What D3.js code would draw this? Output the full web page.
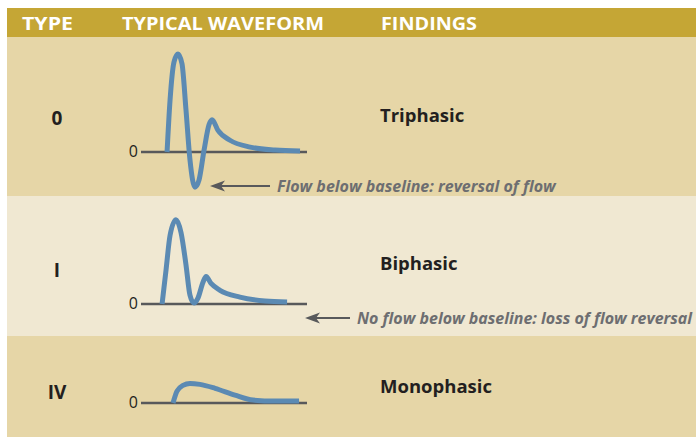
<!DOCTYPE html>
<html>
<head>
<meta charset="utf-8">
<script src="https://cdn.jsdelivr.net/npm/d3@7"></script>
<style>
  body { margin: 0; background: #fff; }
  svg text { font-family: "Open Sans", "Noto Sans", sans-serif; }
</style>
</head>
<body>
<div id="chart"></div>
<script>
// table content
let headers = ["TYPE", "TYPICAL WAVEFORM", "FINDINGS"];
let types = ["0", "I", "IV"];
let findings = ["Triphasic", "Biphasic", "Monophasic"];
let notes = ["Flow below baseline: reversal of flow", "No flow below baseline: loss of flow reversal", null];

// waveforms: [time, velocity]
let triphasic = [[15.7, 0], [17.5, 53], [19.9, 92], [22.3, 100], [24.7, 90], [27.1, 43], [29.5, -8],
  [32.5, -36], [34.9, -29], [38, 2], [41, 28], [42.8, 33], [46.4, 22], [53.6, 12], [65.7, 5], [80.7, 2], [95.8, 1]];
let biphasic = [[12.7, 0], [15.1, 35], [17.5, 70], [21.1, 86], [24.1, 73], [27.1, 40], [29.5, 9],
  [31.9, 1], [34.3, 6], [37.3, 22], [39.2, 28], [42.2, 21], [47.6, 14], [59.6, 7], [74.7, 3], [88, 2]];
let monophasic = [[19.3, 0], [21.7, 12], [25.3, 18], [29.5, 20], [35.5, 19], [44.6, 15], [56.6, 8],
  [67.5, 3], [80.7, 2], [95.2, 2]];
let waves = [triphasic, biphasic, monophasic];

let areaWidth = 696;
let areaHeight = 437;

let svg = d3.select("#chart").append("svg")
  .attr("width", areaWidth)
  .attr("height", areaHeight);

let left = 7;
let headTop = 8, headBottom = 37;
let rowTops = [37, 196, 336, 437];
let rowColors = ["#e6d6a7", "#f0e8d2", "#e6d6a7"];
let baselines = [152, 304, 403];
let labelY = [118, 270, 392];
let findY = [116, 264, 387];

// header band
svg.append("rect")
  .attr("x", left).attr("y", headTop)
  .attr("width", areaWidth - left).attr("height", headBottom - headTop)
  .attr("fill", "#c5a635");

let headX = [22, 122, 381];
let headW = [51, 202, 96];
svg.selectAll(".head").data(headers).enter().append("text")
  .attr("class", "head")
  .attr("x", (d, i) => headX[i])
  .attr("y", 29.5)
  .attr("fill", "#fff")
  .attr("font-size", "17.5px")
  .attr("font-weight", "bold")
  .attr("textLength", (d, i) => headW[i])
  .attr("lengthAdjust", "spacingAndGlyphs")
  .text(d => d);

// row bands
svg.selectAll(".band").data(rowColors).enter().append("rect")
  .attr("class", "band")
  .attr("x", left)
  .attr("y", (d, i) => rowTops[i])
  .attr("width", areaWidth - left)
  .attr("height", (d, i) => rowTops[i + 1] - rowTops[i])
  .attr("fill", d => d);

// scales: time along the baseline, velocity up from it
let x = d3.scaleLinear().domain([0, 100]).range([141, 307]);
let pxPerUnit = 0.98;

let line = d3.line().curve(d3.curveMonotoneX);

waves.forEach(function(wave, i) {
  let y = d3.scaleLinear().domain([0, 100]).range([baselines[i], baselines[i] - 100 * pxPerUnit]);
  let g = svg.append("g");

  g.append("line")
    .attr("x1", x(0)).attr("x2", x(100))
    .attr("y1", y(0)).attr("y2", y(0))
    .attr("stroke", "#58595b")
    .attr("stroke-width", 2.5);

  g.append("text")
    .attr("x", x(0) - 3)
    .attr("y", y(0) - 1)
    .attr("dy", "0.35em")
    .attr("text-anchor", "end")
    .attr("font-size", "16px")
    .attr("fill", "#231f20")
    .text("0");

  g.append("path")
    .attr("d", line(wave.map(d => [x(d[0]), y(d[1])])))
    .attr("fill", "none")
    .attr("stroke", "#5b8ab3")
    .attr("stroke-width", 5)
    .attr("stroke-linejoin", "round");

  svg.append("text")
    .attr("x", 57).attr("y", labelY[i])
    .attr("dy", "0.35em")
    .attr("text-anchor", "middle")
    .attr("font-size", "19px")
    .attr("font-weight", "bold")
    .attr("fill", "#231f20")
    .text(types[i]);

  svg.append("text")
    .attr("x", 380).attr("y", findY[i])
    .attr("dy", "0.35em")
    .attr("font-size", "18.5px")
    .attr("font-weight", "bold")
    .attr("fill", "#231f20")
    .text(findings[i]);
});

// annotations with arrows
let noteArrows = [{tip: 210, tail: 270, y: 186, textX: 277}, {tip: 305, tail: 350, y: 318, textX: 357}];
noteArrows.forEach(function(a, i) {
  svg.append("line")
    .attr("x1", a.tip + 8).attr("x2", a.tail)
    .attr("y1", a.y).attr("y2", a.y)
    .attr("stroke", "#58595b")
    .attr("stroke-width", 1.8);
  svg.append("path")
    .attr("d", `M${a.tip},${a.y} L${a.tip + 15},${a.y - 5.5} L${a.tip + 11},${a.y} L${a.tip + 15},${a.y + 5.5} Z`)
    .attr("fill", "#58595b");
  svg.append("text")
    .attr("x", a.textX).attr("y", a.y)
    .attr("dy", "0.35em")
    .attr("font-size", "16px")
    .attr("font-weight", "bold")
    .attr("font-style", "italic")
    .attr("fill", "#6d6e71")
    .text(notes[i]);
});
</script>
</body>
</html>
